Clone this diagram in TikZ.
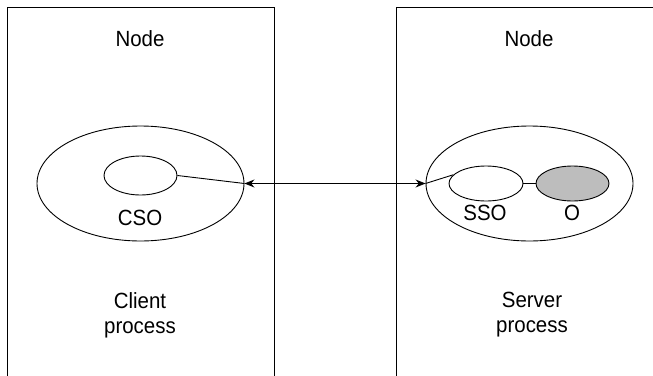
\documentclass[tikz,border=0pt]{standalone}
\usepackage{fontspec}
\setmainfont{Liberation Sans}[FakeStretch=0.93]
\usetikzlibrary{shapes.geometric,arrows.meta}
\begin{document}
\begin{tikzpicture}[x=1pt,y=-1pt,line width=0.9pt,
  lbl/.style={font=\fontsize{22}{25}\selectfont,inner sep=0pt,align=center},
  oval/.style={draw,ellipse,inner sep=0pt},
  dblarrow/.style={{Stealth[length=10pt,width=8pt]}-{Stealth[length=10pt,width=8pt]}}]
\useasboundingbox (0,0) rectangle (653,375);
\clip (0,0) rectangle (653,375);
\draw (7,7) rectangle (274,390);
\draw (396,7) rectangle (670,390);
\node[lbl] (nodeL) at (140,39) {Node};
\node[lbl] (nodeR) at (529,39) {Node};
\node[oval,minimum width=207,minimum height=115] (client) at (140.5,183.5) {};
\node[oval,minimum width=73,minimum height=39] (cso) at (140.5,175.5) {};
\node[lbl] (csol) at (140,218) {CSO};
\node[oval,minimum width=207,minimum height=115] (server) at (529.5,183.5) {};
\node[oval,minimum width=74,minimum height=35] (sso) at (486,183.5) {};
\node[oval,fill={rgb,255:red,189;green,189;blue,189},minimum width=73,minimum height=35] (obj) at (572.5,183.5) {};
\node[lbl] (ssol) at (485,213) {SSO};
\node[lbl] (objl) at (572,213) {O};
\node[lbl] (clientl) at (140,315) {Client\\process};
\node[lbl] (serverl) at (532,315) {Server\\process};
\draw (cso.east) -- (client.east);
\draw[dblarrow] (client.east) -- (server.west);
\draw (server.west) -- (sso.165);
\draw (sso.east) -- (obj.west);
\end{tikzpicture}
\end{document}
